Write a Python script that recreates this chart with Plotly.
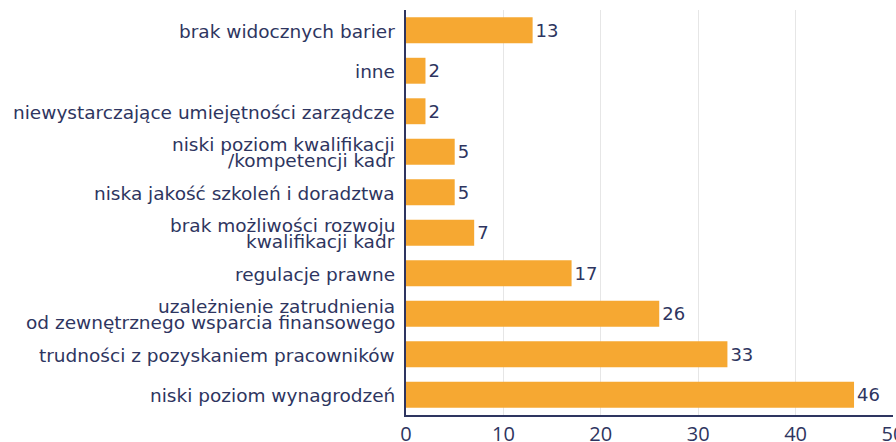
import plotly.graph_objects as go

categories = [
    "brak widocznych barier",
    "inne",
    "niewystarczające umiejętności zarządcze",
    "niski poziom kwalifikacji<br>/kompetencji kadr",
    "niska jakość szkoleń i doradztwa",
    "brak możliwości rozwoju<br>kwalifikacji kadr",
    "regulacje prawne",
    "uzależnienie zatrudnienia<br>od zewnętrznego wsparcia finansowego",
    "trudności z pozyskaniem pracowników",
    "niski poziom wynagrodzeń",
]
values = [13, 2, 2, 5, 5, 7, 17, 26, 33, 46]
x_ticks = [0, 10, 20, 30, 40, 50]

navy = "#2E3560"
orange = "#F6A832"
label_font = dict(family="DejaVu Sans", size=18.5, color=navy)

fig = go.Figure(go.Bar(
    x=values, y=categories, orientation="h",
    marker=dict(color=orange, line=dict(width=0)),
    text=[str(v) for v in values], textposition="outside",
    textfont=dict(family="DejaVu Sans", size=18, color=navy), cliponaxis=False,
))

# category labels drawn as annotations for tight line spacing
for cat in categories:
    lines = cat.split("<br>")
    n = len(lines)
    for i, line in enumerate(lines):
        shift = ((n - 1) / 2 - i) * 16
        fig.add_annotation(
            x=0, xref="paper", y=cat, yref="y", text=line, showarrow=False,
            xanchor="right", yanchor="middle", xshift=-10, yshift=shift - 1,
            font=label_font, borderpad=0,
        )

fig.update_layout(
    width=896, height=442,
    margin=dict(l=406, r=3, t=10, b=27),
    paper_bgcolor="white", plot_bgcolor="white",
    font=dict(family="DejaVu Sans", color=navy),
    bargap=0.36, showlegend=False,
)
fig.update_xaxes(
    range=[0, 50], tickvals=x_ticks, automargin=False,
    tickfont=dict(family="Open Sans", size=20, color=navy),
    showgrid=True, gridcolor="#E6E6E6", gridwidth=1,
    showline=True, linecolor=navy, linewidth=2, zeroline=False,
    ticks="", ticklabelstandoff=0, ticklabeloverflow="allow",
)
fig.update_yaxes(
    autorange="reversed", showticklabels=False, automargin=False,
    showline=True, linecolor=navy, linewidth=2, showgrid=False, ticks="",
)

fig.write_html("out.html", config={"displayModeBar": False},
               post_script="document.body.style.margin='0';")
